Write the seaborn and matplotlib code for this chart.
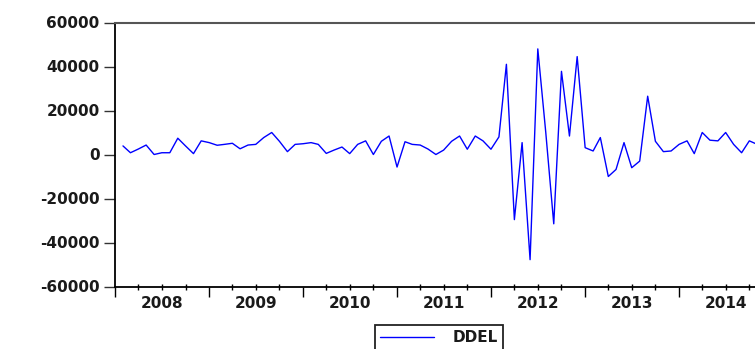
import numpy as np
import pandas as pd
import matplotlib
matplotlib.use("Agg")
import matplotlib.pyplot as plt
import matplotlib.dates as mdates
from matplotlib.ticker import NullFormatter, FuncFormatter
import seaborn as sns

# Monthly DDEL series, 2008M02 - 2014M12
ddel = [
    3900, 800, 2500, 4300, 0, 800, 800, 7400, 3900, 400, 6200,
    5400, 4200, 4600, 5100, 2600, 4300, 4600, 7700, 10000, 6000, 1300,
    4600, 4900, 5400, 4600, 500, 2000, 3400, 400, 4600, 6200, 0, 6000,
    8400, -5700, 5800, 4600, 4300, 2500, 0, 2000, 6000, 8400, 2400, 8400,
    6200, 2400, 8000, 41000, -29600, 5400, -47800, 48000, 10000, -31500,
    37800, 8400, 44500, 3100, 1600, 7700, -10000, -6800, 5400, -6000,
    -3000, 26500, 6000, 1300, 1600, 4600, 6200, 400, 10000, 6500, 6200,
    10000, 4600, 800, 6200, 4600, 5000,
]
series_name = "DDEL"
start_month = "2008-02-01"
x_start, x_end = "2008-01-01", "2015-01-01"
y_ticks = list(range(-60000, 60001, 20000))

months = pd.date_range(start_month, periods=len(ddel), freq="MS")
df = pd.DataFrame({"date": months, series_name: ddel})

sns.set_style("ticks")
plt.rcParams["font.family"] = ["DejaVu Sans"]
plt.rcParams["axes.unicode_minus"] = False
text_color = "#1a1a1a"

fig = plt.figure(figsize=(7.55, 3.49), dpi=100)
ax = fig.add_axes([115 / 755, 1 - 286.5 / 349, (773 - 115) / 755, 264 / 349])

sns.lineplot(data=df, x="date", y=series_name, ax=ax, color="#0000ff",
             linewidth=1.0, label=series_name, legend=False)

ax.set_xlim(pd.Timestamp(x_start), pd.Timestamp(x_end))
ax.set_ylim(y_ticks[0], y_ticks[-1])
ax.set_yticks(y_ticks)
ax.set_xlabel("")
ax.set_ylabel("")

# Year boundaries as long ticks, quarters as short ticks, year names mid-year
ax.xaxis.set_major_locator(mdates.YearLocator())
ax.xaxis.set_major_formatter(NullFormatter())
ax.xaxis.set_minor_locator(mdates.MonthLocator(bymonth=[4, 7, 10]))


def year_label(v, pos):
    d = mdates.num2date(v)
    return str(d.year) if d.month == 7 else ""


ax.xaxis.set_minor_formatter(FuncFormatter(year_label))

ax.tick_params(axis="x", which="major", direction="out", length=7, width=1.0,
               color="black")
ax.tick_params(axis="x", which="minor", direction="inout", length=4, width=1.0,
               color="black", pad=5, labelsize=11, labelcolor=text_color)
ax.tick_params(axis="y", which="major", direction="out", length=8, width=1.0,
               color="#333333", pad=3, labelsize=11, labelcolor=text_color)
for lab in ax.get_yticklabels() + ax.xaxis.get_minorticklabels():
    lab.set_fontweight("bold")

for side in ["left", "bottom"]:
    ax.spines[side].set_color("black")
    ax.spines[side].set_linewidth(1.3)
ax.spines["top"].set_color("#555555")
ax.spines["top"].set_linewidth(1.5)
ax.spines["right"].set_visible(False)

handles, labels = ax.get_legend_handles_labels()
leg = fig.legend(handles, labels, loc="upper center",
                 bbox_to_anchor=(439 / 755, 1 - 325 / 349),
                 borderaxespad=0.0,
                 frameon=True, fancybox=False, shadow=False,
                 edgecolor="#222222", framealpha=1.0, borderpad=0.35,
                 handlelength=3.5, handletextpad=1.2,
                 prop={"size": 11, "weight": "bold"})
leg.get_frame().set_linewidth(1.3)
for t in leg.get_texts():
    t.set_color(text_color)

fig.savefig("out.png", dpi=100)
